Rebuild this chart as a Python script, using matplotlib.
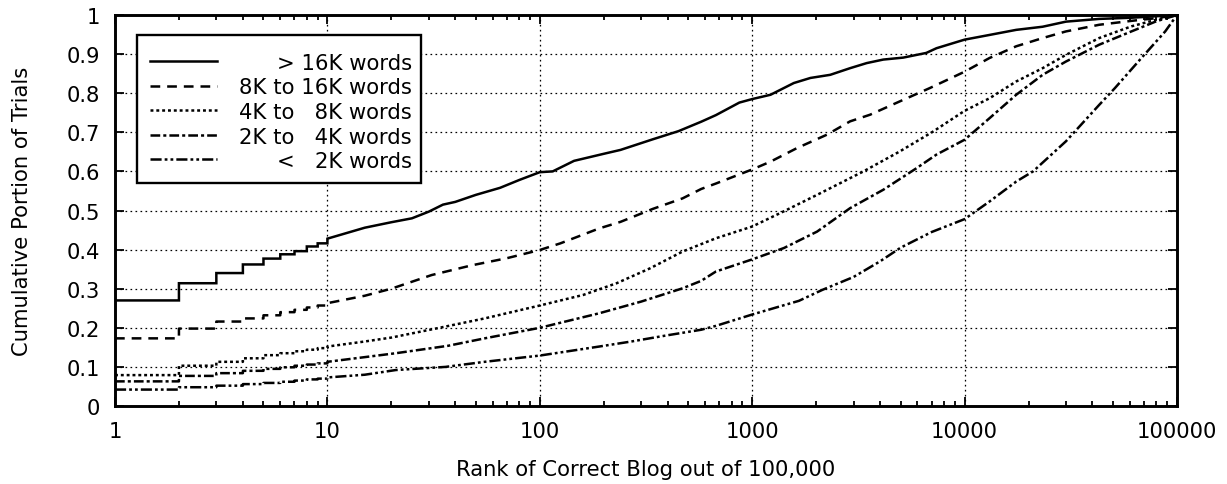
import matplotlib
matplotlib.use("Agg")
import matplotlib.pyplot as plt
import numpy as np
from matplotlib.patches import Rectangle
from matplotlib.ticker import FixedLocator, LogLocator, NullFormatter

plt.rcParams['font.family'] = ['DejaVu Sans']
plt.rcParams['font.size'] = 15.2
plt.rcParams['lines.scale_dashes'] = False

# empirical CDF of the rank of the correct blog, per post-length bucket
# ranks 1..10 (integer steps)
head_gt16k = [0.270, 0.314, 0.340, 0.362, 0.377, 0.388, 0.396, 0.408, 0.416, 0.428]
head_8_16k = [0.173, 0.198, 0.216, 0.224, 0.232, 0.240, 0.246, 0.252, 0.257, 0.263]
head_4_8k = [0.079, 0.103, 0.113, 0.122, 0.130, 0.135, 0.140, 0.144, 0.148, 0.152]
head_2_4k = [0.063, 0.077, 0.084, 0.090, 0.095, 0.099, 0.103, 0.106, 0.109, 0.113]
head_lt2k = [0.042, 0.048, 0.052, 0.056, 0.059, 0.062, 0.065, 0.068, 0.070, 0.073]

# beyond rank 10
ranks_gt16k = [15, 20, 25, 30, 35, 40, 50, 65, 80, 100, 115, 145, 200, 240, 340, 450,
               575, 675, 870, 1000, 1220, 1570, 1880, 2330, 2890, 3460, 4140, 5140,
               6600, 7370, 10000, 13100, 17500, 23300, 30000, 43000, 61000, 100000]
cdf_gt16k = [0.456, 0.470, 0.480, 0.497, 0.515, 0.522, 0.540, 0.558, 0.578, 0.598, 0.600,
             0.627, 0.645, 0.655, 0.682, 0.703, 0.727, 0.744, 0.776, 0.785, 0.796, 0.826,
             0.839, 0.847, 0.864, 0.877, 0.886, 0.891, 0.903, 0.915, 0.937, 0.949, 0.962,
             0.970, 0.983, 0.990, 0.993, 1.0]

ranks_8_16k = [15, 20, 31, 48, 70, 100, 125, 190, 240, 340, 470, 575, 675, 1000, 1220,
               1630, 2250, 2890, 3590, 4950, 6850, 10000, 13100, 17500, 23300, 30000,
               43000, 61000, 80000, 100000]
cdf_8_16k = [0.282, 0.300, 0.335, 0.360, 0.378, 0.399, 0.416, 0.454, 0.471, 0.504, 0.531,
             0.555, 0.569, 0.605, 0.625, 0.660, 0.694, 0.728, 0.745, 0.779, 0.813, 0.855,
             0.890, 0.920, 0.941, 0.958, 0.975, 0.985, 0.992, 1.0]

ranks_4_8k = [15, 20, 33, 55, 100, 160, 230, 330, 470, 675, 1000, 1410, 2020, 3340, 4950,
              7110, 10000, 13100, 17500, 23300, 30000, 43000, 61000, 80000, 100000]
cdf_4_8k = [0.165, 0.175, 0.199, 0.224, 0.257, 0.284, 0.314, 0.352, 0.395, 0.429, 0.459,
            0.498, 0.540, 0.600, 0.651, 0.702, 0.755, 0.787, 0.830, 0.864, 0.898, 0.941,
            0.971, 0.988, 1.0]

ranks_2_4k = [15, 21, 37, 55, 100, 190, 300, 470, 575, 675, 1000, 1410, 2020, 2890, 4140,
              5930, 7370, 10000, 13100, 17500, 23300, 30000, 43000, 61000, 80000, 100000]
cdf_2_4k = [0.125, 0.135, 0.154, 0.173, 0.200, 0.237, 0.267, 0.301, 0.320, 0.344, 0.375,
            0.404, 0.446, 0.506, 0.553, 0.608, 0.643, 0.681, 0.736, 0.796, 0.847, 0.881,
            0.924, 0.958, 0.984, 1.0]

ranks_lt2k = [15, 21, 36, 55, 100, 190, 270, 390, 575, 675, 1000, 1660, 2140, 3000, 4000,
              5000, 7000, 10000, 13100, 17500, 21000, 30000, 43000, 51000, 68000, 88000,
              100000]
cdf_lt2k = [0.080, 0.092, 0.100, 0.113, 0.129, 0.152, 0.165, 0.180, 0.195, 0.205, 0.234,
            0.269, 0.297, 0.330, 0.370, 0.405, 0.445, 0.478, 0.523, 0.574, 0.600, 0.677,
            0.770, 0.813, 0.890, 0.958, 1.0]

labels = ['> 16K words', '8K to 16K words', '4K to   8K words',
          '2K to   4K words', '<   2K words']

x_ticks = [1, 10, 100, 1000, 10000, 100000]
y_ticks = [0, 0.1, 0.2, 0.3, 0.4, 0.5, 0.6, 0.7, 0.8, 0.9, 1]

series = [
    (head_gt16k, ranks_gt16k, cdf_gt16k),
    (head_8_16k, ranks_8_16k, cdf_8_16k),
    (head_4_8k, ranks_4_8k, cdf_4_8k),
    (head_2_4k, ranks_2_4k, cdf_2_4k),
    (head_lt2k, ranks_lt2k, cdf_lt2k),
]

dash_styles = [
    None,
    (0, (7, 5)),
    (0, (2.1, 2.1)),
    (0, (7, 2.2, 2.2, 2.2)),
    (0, (8, 2.2, 2, 2.2, 2, 2.2)),
]


def cdf_path(head, ranks, vals):
    """Stepped path over the integer ranks, then straight segments."""
    r = np.arange(1, len(head) + 1)
    xs = np.repeat(r, 2)[1:]
    ys = np.repeat(np.asarray(head), 2)[:-1]
    return np.concatenate([xs, ranks]), np.concatenate([ys, vals])


fig = plt.figure(figsize=(12.27, 4.85), dpi=100)
ax = fig.add_axes([115 / 1227, 1 - 407 / 485, 1062 / 1227, 391 / 485])

lw = 1.8
for (head, ranks, vals), ls in zip(series, dash_styles):
    x, y = cdf_path(head, ranks, vals)
    ax.plot(x, y, color='black', lw=lw, linestyle=ls if ls else '-',
            dash_capstyle='butt', solid_joinstyle='miter', zorder=3)

ax.set_xscale('log')
ax.set_xlim(1, 100000)
ax.set_ylim(0, 1)
ax.xaxis.set_major_locator(FixedLocator(x_ticks))
ax.set_xticklabels([str(t) for t in x_ticks])
ax.xaxis.set_minor_locator(LogLocator(base=10, subs=np.arange(2, 10)))
ax.xaxis.set_minor_formatter(NullFormatter())
ax.yaxis.set_major_locator(FixedLocator(y_ticks))
ax.set_yticklabels(['0' if t == 0 else ('1' if t == 1 else f'{t:.1f}') for t in y_ticks])

ax.tick_params(which='both', direction='in', top=True, right=True, color='black', width=1.3)
ax.tick_params(which='major', length=6.5)
ax.tick_params(which='minor', length=3.5)
ax.tick_params(axis='y', pad=10.5)
ax.tick_params(axis='x', pad=10.5)
for sp in ax.spines.values():
    sp.set_linewidth(2.1)
    sp.set_zorder(5)

ax.grid(True, which='major', color='black', lw=0.9, linestyle=(0, (1.2, 2.4)))
ax.set_axisbelow(True)

ax.set_xlabel('Rank of Correct Blog out of 100,000')
ax.xaxis.set_label_coords(0.5, -0.136)
ax.set_ylabel('Cumulative Portion of Trials')
ax.yaxis.set_label_coords(-0.078, 0.5)

# key box in the upper left
box_x0, box_x1 = (137 - 115) / 1062, (421 - 115) / 1062
box_y0, box_y1 = (407 - 184) / 391, (407 - 36) / 391
ax.add_patch(Rectangle((box_x0, box_y0), box_x1 - box_x0, box_y1 - box_y0,
                       transform=ax.transAxes, facecolor='white', edgecolor='black',
                       lw=1.7, zorder=6))
sample_x = [(150 - 115) / 1062, (217 - 115) / 1062]
text_x = (412 - 115) / 1062
row_y = [(407 - py) / 391 for py in (61.5, 86.5, 111, 135.5, 160)]
for label, ls, yy in zip(labels, dash_styles, row_y):
    ax.plot(sample_x, [yy, yy], transform=ax.transAxes, color='black', lw=lw,
            linestyle=ls if ls else '-', dash_capstyle='butt', zorder=7, clip_on=False)
    ax.text(text_x, yy, label, transform=ax.transAxes, ha='right', va='center_baseline',
            zorder=7)

fig.savefig('out.png', dpi=100)
